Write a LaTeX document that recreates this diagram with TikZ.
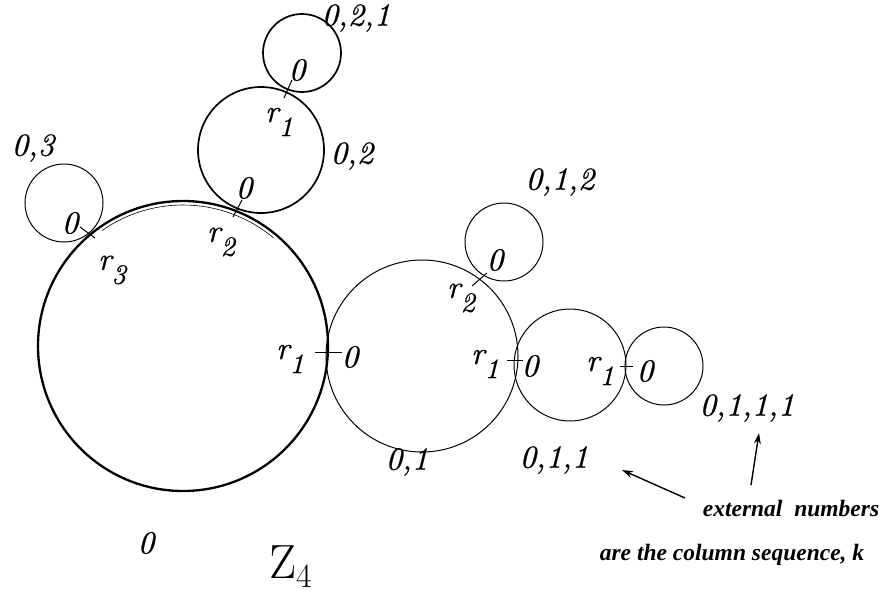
\documentclass[tikz,border=0pt]{standalone}
\usepackage{fontspec}
\newfontfamily\labfont{lmroman10-italic.otf}[FakeBold=0.7]
\newfontfamily\notefont{Liberation Serif}
\usetikzlibrary{arrows.meta}
\begin{document}
\begin{tikzpicture}[x=1pt,y=-1pt,
  circ/.style={draw, circle, inner sep=0pt, line width=1pt},
  midcirc/.style={circ, line width=1.7pt},
  bigcirc/.style={circ, line width=2.3pt},
  lab/.style={inner sep=0pt, font=\labfont\fontsize{32}{36}\selectfont},
  note/.style={inner sep=0pt, font=\notefont\bfseries\itshape\fontsize{23.5}{26}\selectfont},
  tickmark/.style={line width=1pt},
  pointer/.style={line width=1.4pt, -{Stealth[length=11pt,width=7pt]}}]
\useasboundingbox (0,0) rectangle (883,597);
\newcommand{\rsub}[1]{r\raisebox{-14pt}{\fontsize{28}{30}\selectfont #1}}
% circles
\node[bigcirc, minimum size=290pt] (c0) at (183,346) {};
\draw[line width=0.6pt] (183,346) ++(-125:141) arc[start angle=-125, end angle=-50, radius=141];
\node[circ, minimum size=192pt] (c01) at (422,356) {};
\node[circ, minimum size=112pt] (c011) at (570,365) {};
\node[circ, minimum size=78pt] (c0111) at (664,366) {};
\node[circ, minimum size=78pt] (c012) at (504,242) {};
\node[midcirc, minimum size=126pt] (c02) at (261,150) {};
\node[midcirc, minimum size=78pt] (c021) at (302,53) {};
\node[circ, minimum size=78pt] (c03) at (64,203) {};
% tick marks at the contacts
\coordinate (t1a) at (284,98);  \coordinate (t1b) at (292,80);
\coordinate (t2a) at (233,217); \coordinate (t2b) at (242,200);
\coordinate (t3a) at (80,227);  \coordinate (t3b) at (95,238);
\coordinate (t4a) at (315,352); \coordinate (t4b) at (342,352);
\coordinate (t5a) at (472,286); \coordinate (t5b) at (487,273);
\coordinate (t6a) at (507,360); \coordinate (t6b) at (523,360);
\coordinate (t7a) at (620,366); \coordinate (t7b) at (633,366);
\foreach \t in {1,...,7} \draw[tickmark] (t\t a) -- (t\t b);
% contact labels
\node[lab] (z1) at (297,70) {0};
\node[lab] (r1a) at (279,122) {\rsub{1}};
\node[lab] (z2) at (244,188) {0};
\node[lab] (r2a) at (221,242) {\rsub{2}};
\node[lab] (z3) at (70,223) {0};
\node[lab] (r3a) at (112,270) {\rsub{3}};
\node[lab] (z4) at (350,357) {0};
\node[lab] (r1b) at (290,359) {\rsub{1}};
\node[lab] (z5) at (495,260) {0};
\node[lab] (r2b) at (461,298) {\rsub{2}};
\node[lab] (z6) at (530,366) {0};
\node[lab] (r1c) at (485,364) {\rsub{1}};
\node[lab] (z7) at (645,371) {0};
\node[lab] (r1d) at (600,371) {\rsub{1}};
% external numbers
\node[lab] (k021) at (356,18) {0,2,1};
\node[lab] (k02) at (352,156) {0,2};
\node[lab] (k03) at (33,148) {0,3};
\node[lab] (k012) at (560,182) {0,1,2};
\node[lab] (k01) at (407,462) {0,1};
\node[lab] (k011) at (554,460) {0,1,1};
\node[lab] (k0111) at (747,408) {0,1,1,1};
\node[lab] (k0) at (146,543) {0};
\node[inner sep=0pt, anchor=base west] (zz) at (269,578) {\fontsize{48}{50}\selectfont Z\raisebox{-9pt}{\fontsize{34}{38}\selectfont 4}};
% note
\node[note] (n1) at (791,508) {external\ \ numbers};
\node[note] (n2) at (732,555) {are the column sequence, k};
\coordinate (a1s) at (685,498); \coordinate (a1e) at (622,470);
\coordinate (a2s) at (751,485); \coordinate (a2e) at (759,433);
\draw[pointer] (a1s) -- (a1e);
\draw[pointer] (a2s) -- (a2e);
\end{tikzpicture}
\end{document}
